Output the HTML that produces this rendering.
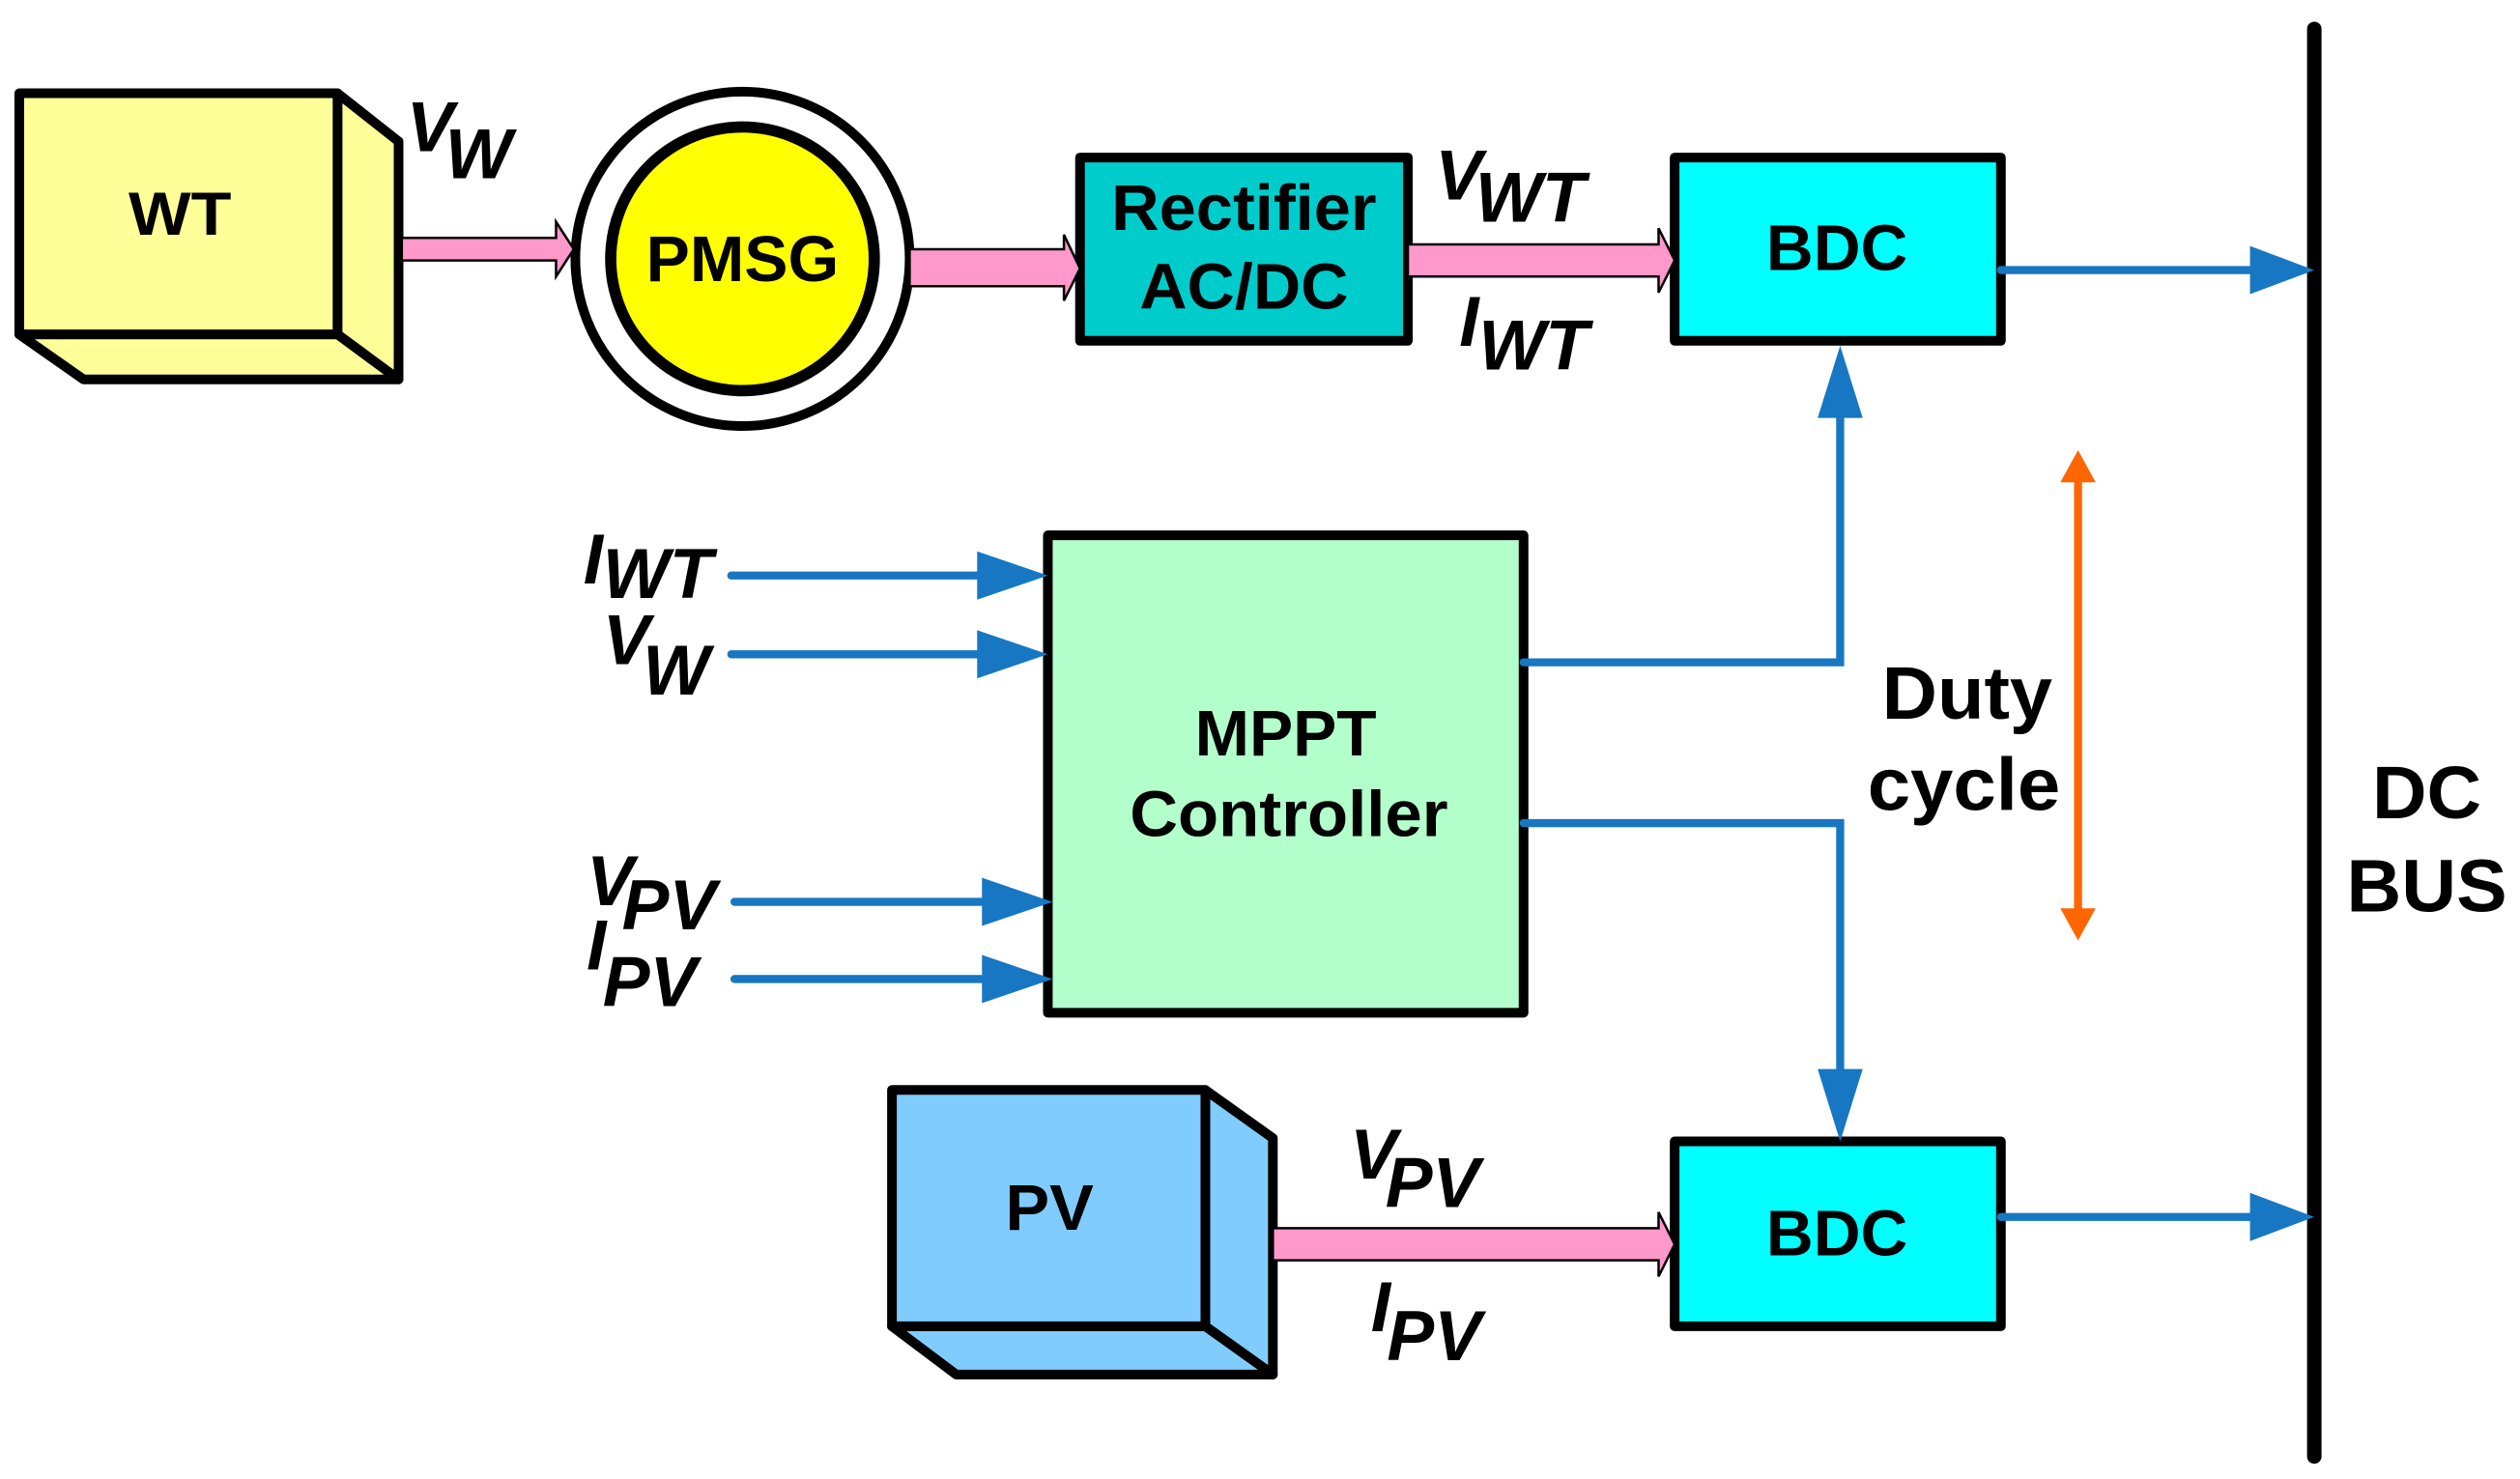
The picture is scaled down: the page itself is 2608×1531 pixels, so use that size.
<!DOCTYPE html>
<html><head><meta charset="utf-8"><style>
html,body{margin:0;padding:0;background:#fff;}
svg{display:block;}
text{font-family:"Liberation Sans",Arial,sans-serif;font-weight:bold;fill:#000;}
.it{font-style:italic;font-weight:bold;}
</style></head><body>
<svg width="2608" height="1531" viewBox="0 0 1568 920" preserveAspectRatio="none" xmlns="http://www.w3.org/2000/svg">
<g stroke="#000" stroke-width="6" stroke-linejoin="round">
<polygon points="210,58 248,88 248,236 210,208" fill="#FFFF99"/>
<polygon points="12,208 52,236 248,236 210,208" fill="#FFFF99"/>
<rect x="12" y="58" width="198" height="150" fill="#FFFF99"/>
<polygon points="750,678 792,708 792,855 750,825" fill="#80CCFF"/>
<polygon points="555,825 595,855 792,855 750,825" fill="#80CCFF"/>
<rect x="555" y="678" width="195" height="147" fill="#80CCFF"/>
<circle cx="462" cy="161" r="104" fill="#fff"/>
<circle cx="462" cy="161" r="82" fill="#FFFF00" stroke-width="7"/>
<rect x="672" y="98" width="204" height="114" fill="#00CCCC"/>
<rect x="1042" y="98" width="203" height="114" fill="#00FFFF"/>
<rect x="1042" y="710" width="203" height="115" fill="#00FFFF"/>
<rect x="652" y="333" width="296" height="297" fill="#B3FFCC"/>
</g>
<g fill="#FF99CC" stroke="#000" stroke-width="1.5">
<polygon points="250,148 346,148 346,138 357,155 346,172 346,162 250,162"/>
<polygon points="566,155 662,155 662,146 672,167 662,187 662,178 566,178"/>
<polygon points="876,152 1032,152 1032,142 1042,162 1032,182 1032,172 876,172"/>
<polygon points="792,764 1032,764 1032,754 1042,774 1032,794 1032,784 792,784"/>
</g>
<line x1="1440" y1="18" x2="1440" y2="906" stroke="#000" stroke-width="9" stroke-linecap="round"/>
<g stroke="#1777C2" stroke-width="5" fill="none" stroke-linecap="round">
<line x1="1245" y1="168" x2="1405" y2="168"/>
<line x1="1245" y1="757" x2="1405" y2="757"/>
<polyline points="948,412 1145,412 1145,255"/>
<polyline points="948,512 1145,512 1145,670"/>
<line x1="455" y1="358" x2="615" y2="358"/>
<line x1="455" y1="407" x2="615" y2="407"/>
<line x1="457" y1="561" x2="618" y2="561"/>
<line x1="457" y1="609" x2="618" y2="609"/>
</g>
<g fill="#1777C2">
<polygon points="1400,153 1440,168 1400,183"/>
<polygon points="1400,742 1440,757 1400,772"/>
<polygon points="1131,260 1145,215 1159,260"/>
<polygon points="1131,665 1145,710 1159,665"/>
<polygon points="608,343 652,358 608,373"/>
<polygon points="608,392 652,407 608,422"/>
<polygon points="611,546 655,561 611,576"/>
<polygon points="611,594 655,609 611,624"/>
</g>
<line x1="1293" y1="295" x2="1293" y2="570" stroke="#FF6600" stroke-width="5"/>
<polygon points="1282,300 1293,280 1304,300" fill="#FF6600"/>
<polygon points="1282,565 1293,585 1304,565" fill="#FF6600"/>
<g transform="scale(1,1)">
<text x="112" y="146" font-size="38" text-anchor="middle" textLength="64" lengthAdjust="spacingAndGlyphs">WT</text>
<text x="462" y="175" font-size="40" text-anchor="middle" textLength="120" lengthAdjust="spacingAndGlyphs">PMSG</text>
<text x="774" y="143" font-size="40" text-anchor="middle" textLength="165" lengthAdjust="spacingAndGlyphs">Rectifier</text>
<text x="774" y="192" font-size="40" text-anchor="middle" textLength="130" lengthAdjust="spacingAndGlyphs">AC/DC</text>
<text x="1143" y="168" font-size="40" text-anchor="middle" textLength="88" lengthAdjust="spacingAndGlyphs">BDC</text>
<text x="1143" y="781" font-size="40" text-anchor="middle" textLength="88" lengthAdjust="spacingAndGlyphs">BDC</text>
<text x="653" y="765" font-size="40" text-anchor="middle" textLength="55" lengthAdjust="spacingAndGlyphs">PV</text>
<text x="800" y="470" font-size="40" text-anchor="middle" textLength="113" lengthAdjust="spacingAndGlyphs">MPPT</text>
<text x="802" y="520" font-size="40" text-anchor="middle" textLength="198" lengthAdjust="spacingAndGlyphs">Controller</text>
<text x="1224" y="447" font-size="46" text-anchor="middle" textLength="106" lengthAdjust="spacingAndGlyphs">Duty</text>
<text x="1222" y="504" font-size="46" text-anchor="middle" textLength="120" lengthAdjust="spacingAndGlyphs">cycle</text>
<text x="1510" y="509" font-size="46" text-anchor="middle" textLength="68" lengthAdjust="spacingAndGlyphs">DC</text>
<text x="1510" y="567" font-size="46" text-anchor="middle" textLength="100" lengthAdjust="spacingAndGlyphs">BUS</text>
</g>
<g font-size="44">
<text class="it" x="253" y="94">V</text><text class="it" x="277" y="111">W</text>
<text class="it" x="893" y="124">V</text><text class="it" x="918" y="138">WT</text>
<text class="it" x="908" y="215">I</text><text class="it" x="920" y="230">WT</text>
<text class="it" x="363" y="363">I</text><text class="it" x="375" y="372">WT</text>
<text class="it" x="375" y="413">V</text><text class="it" x="400" y="432">W</text>
<text class="it" x="365" y="563">V</text><text class="it" x="387" y="578">PV</text>
<text class="it" x="365" y="603">I</text><text class="it" x="375" y="626">PV</text>
<text class="it" x="840" y="733">V</text><text class="it" x="862" y="751">PV</text>
<text class="it" x="853" y="828">I</text><text class="it" x="863" y="846">PV</text>
</g>
</svg>
</body></html>
